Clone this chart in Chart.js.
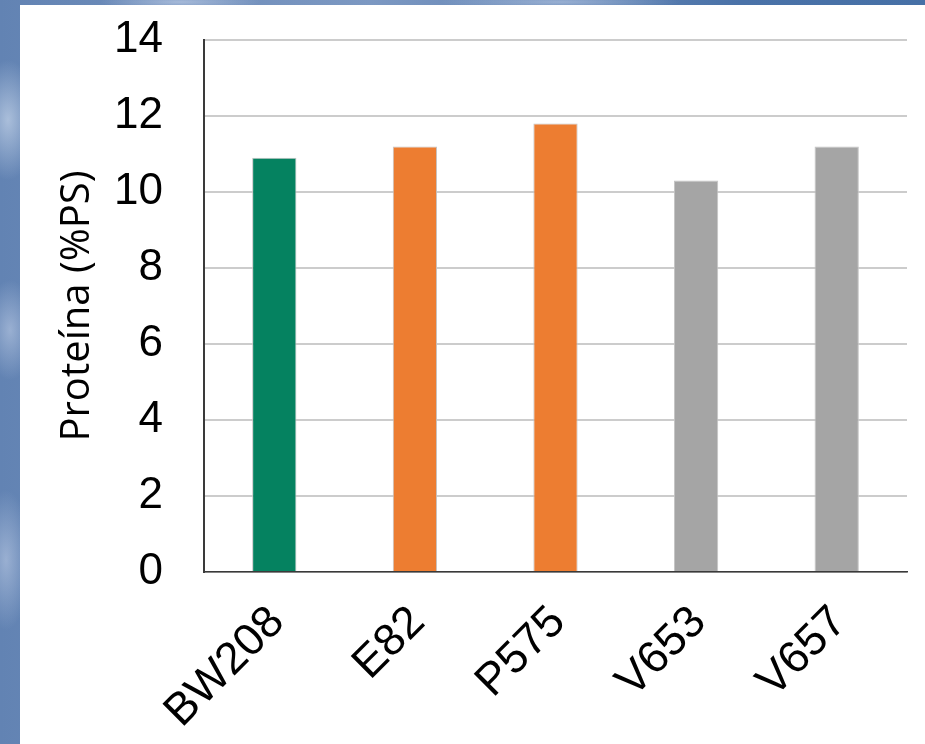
<!DOCTYPE html>
<html>
<head>
<meta charset="utf-8">
<script src="https://cdn.jsdelivr.net/npm/chart.js@4/dist/chart.umd.min.js"></script>
<style>
  html, body { margin: 0; padding: 0; }
  body {
    width: 925px; height: 744px; overflow: hidden; position: relative;
    background:
      radial-gradient(ellipse 30px 60px at 8px 120px, rgba(200,215,235,0.7), transparent),
      radial-gradient(ellipse 25px 50px at 10px 330px, rgba(190,205,230,0.6), transparent),
      radial-gradient(ellipse 25px 70px at 6px 560px, rgba(190,205,230,0.6), transparent),
      radial-gradient(ellipse 80px 8px at 180px 2px, rgba(190,205,230,0.7), transparent),
      radial-gradient(ellipse 120px 8px at 560px 2px, rgba(190,205,230,0.6), transparent),
      linear-gradient(90deg, #6283b3 0%, #7c98c2 40%, #4a72a8 80%, #4670a6 100%);
  }
  #panel {
    position: absolute; left: 20px; top: 5px; width: 905px; height: 739px;
    background: #fff;
  }
</style>
</head>
<body>
<div id="panel"><canvas id="myChart1"></canvas></div>
<script>
const labels = ['BW208', 'E82', 'P575', 'V653', 'V657'];
const proteina = [10.9, 11.2, 11.8, 10.3, 11.2];
const barColors = ['#058260', '#ED7D31', '#ED7D31', '#A5A5A5', '#A5A5A5'];
const yTicks = [0, 2, 4, 6, 8, 10, 12, 14];

document.addEventListener('DOMContentLoaded', function () {
  const config = {
    type: 'bar',
    data: {
      labels: labels,
      datasets: [
        {
          data: proteina,
          backgroundColor: barColors,
          borderColor: '#c4c4c4',
          borderWidth: 1,
          categoryPercentage: 1,
          barPercentage: 0.315
        }
      ]
    },
    options: {
      responsive: true,
      maintainAspectRatio: false,
      animation: false,
      layout: { padding: { top: 35, right: 18, bottom: 0, left: 0 } },
      scales: {
        x: {
          grid: { display: false, drawTicks: false },
          border: { display: true, color: '#3a3a3a', width: 1.5 },
          ticks: {
            color: '#000',
            font: { family: 'Liberation Sans', size: 45 },
            minRotation: 45,
            maxRotation: 45,
            padding: 24,
            labelOffset: 3
          },
          afterFit: function (scale) {
            scale.height = 172;
            scale.paddingLeft = 0;
            scale.paddingRight = 0;
          }
        },
        y: {
          min: 0,
          max: 14,
          afterBuildTicks: function (scale) {
            scale.ticks = yTicks.map(function (v) { return { value: v }; });
          },
          grid: { color: '#cccccc', lineWidth: 2, drawTicks: false },
          border: { display: true, color: '#3a3a3a', width: 2 },
          ticks: {
            color: '#000',
            font: { family: 'Liberation Sans', size: 44 },
            padding: 41
          },
          title: {
            display: true,
            text: 'Proteína (%PS)',
            color: '#000',
            font: { family: 'Open Sans', size: 40 },
            padding: { top: 34, bottom: 0 }
          },
          afterFit: function (scale) {
            scale.width = 184;
            scale.paddingTop = 0;
            scale.paddingBottom = 0;
          }
        }
      },
      plugins: {
        legend: { display: false },
        tooltip: { enabled: false }
      }
    }
  };
  new Chart(document.getElementById('myChart1'), config);
});
</script>
</body>
</html>
